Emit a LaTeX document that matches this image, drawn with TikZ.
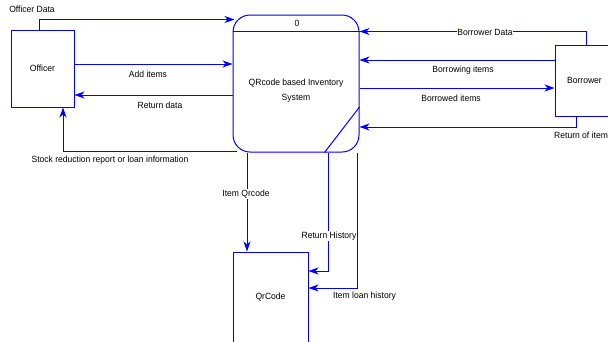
\documentclass[tikz,border=0pt]{standalone}
\usepackage{fontspec}
\setmainfont{Liberation Sans}[FakeStretch=0.95]
\usetikzlibrary{arrows.meta,positioning}

\tikzset{
  flow/.style={draw=blue,line width=1pt,-{Stealth[length=10pt,width=7pt,inset=3pt]}},
  entity/.style={draw=blue,line width=1pt,rectangle,inner sep=0pt},
  lbl/.style={inner sep=1pt,font=\fontsize{9}{10}\selectfont},
}

\begin{document}
\begin{tikzpicture}[x=1pt,y=-1pt]
  \clip (0,0) rectangle (608,341);
  \fill[white] (0,0) rectangle (608,341);

  % Entities
  \node[entity,minimum width=63pt,minimum height=77pt] (officer) at (42.5,68.5) {};
  \node[lbl] at (officer.center) {Officer};
  \node[entity,minimum width=59pt,minimum height=71pt] (borrower) at (584.5,80.5) {};
  \node[lbl] at (borrower.center) {Borrower};
  \node[entity,minimum width=75pt,minimum height=90pt] (qrcode) at (270.5,297) {};
  \node[lbl] at (qrcode.center) {QrCode};

  % Process
  \node[entity,rounded corners=17pt,minimum width=126pt,minimum height=137pt] (proc) at (296,83.5) {};
  \draw[blue,line width=1pt] ([yshift=-17pt]proc.north west) -- ([yshift=-17pt]proc.north east);
  \draw[blue,line width=1pt] ([yshift=-23.5pt]proc.east) -- ([xshift=-35pt]proc.south east);
  \node[lbl] at (297,23) {0};
  \node[lbl,align=center,font=\fontsize{9}{14.5}\selectfont] at (296,90.5) {QRcode based Inventory\\System};

  % Officer flows
  \draw[flow] ([xshift=-3.5pt]officer.north) |- ([yshift=-5pt,xshift=2pt]proc.north west);
  \node[lbl] at (32,9) {Officer Data};
  \draw[flow] ([yshift=4.5pt]officer.east) coordinate (a1) -- (a1 -| proc.west);
  \node[lbl] at (148,74) {Add items};
  \draw[flow] ([yshift=-11.5pt]proc.west) coordinate (a2) -- (a2 -| officer.east);
  \node[lbl] at (160,105) {Return data};
  \draw[flow] ([yshift=1pt,xshift=4pt]proc.south west) -| ([xshift=20.5pt]officer.south);
  \node[lbl] at (110,160) {Stock reduction report or loan information};

  % Borrower flows
  \draw[flow] ([xshift=1.5pt]borrower.north) |- ([yshift=-17pt]proc.north east);
  \node[lbl,fill=white,inner sep=0.5pt] at (485,32) {Borrower Data};
  \draw[flow] ([yshift=20.5pt]borrower.west) coordinate (b1) -- (b1 -| proc.east);
  \node[lbl] at (463,70) {Borrowing items};
  \draw[flow] ([yshift=-4.5pt]proc.east) coordinate (b2) -- (b2 -| borrower.west);
  \node[lbl] at (451,98) {Borrowed items};
  \draw[flow] ([xshift=-8.5pt]borrower.south) |- ([yshift=-43.5pt]proc.east);
  \node[lbl,anchor=west] at (553,135) {Return of item};

  % QrCode flows
  \draw[flow] ([xshift=-49pt]proc.south) -- ([xshift=-23.5pt]qrcode.north);
  \node[lbl,fill=white] at (246,194) {Item Qrcode};
  \draw[flow] ([xshift=32pt]proc.south) |- ([yshift=26pt]qrcode.east);
  \node[lbl,fill=white] at (329,236) {Return History};
  \draw[flow] ([xshift=61pt]proc.south) |- ([yshift=9pt]qrcode.east);
  \node[lbl,anchor=west] at (332,296) {Item loan history};
\end{tikzpicture}
\end{document}
